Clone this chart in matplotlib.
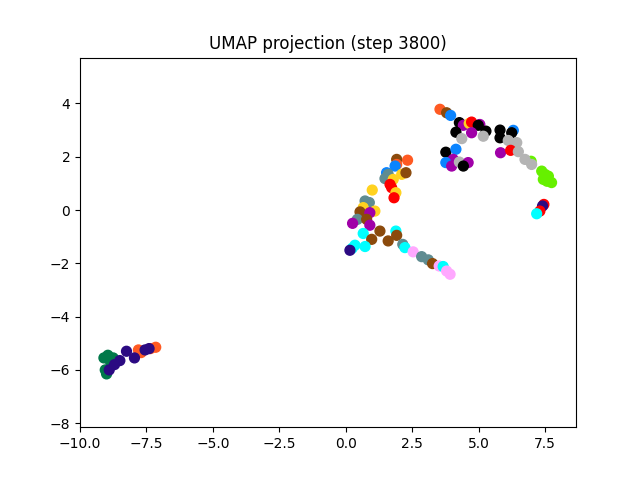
import matplotlib
matplotlib.use("Agg")
import matplotlib.pyplot as plt

# colour per cluster
palette = {
    "orange": "#ff5a22",
    "brown": "#8b4a0c",
    "blue": "#0a84ff",
    "slate": "#5f8c91",
    "gold": "#ffd21f",
    "red": "#ff0000",
    "purple": "#a000a8",
    "cyan": "#00ffff",
    "indigo": "#2b0a82",
    "pink": "#ffa8ff",
    "black": "#000000",
    "gray": "#b4b4b4",
    "green": "#66f000",
    "dkgreen": "#00794a",
}

# embedded points, in drawing order
xs = [
    # left cluster
    -9.10, -8.95, -8.75, -9.05, -9.00, -8.85,
    -7.80, -7.70, -7.35, -7.15,
    -8.90, -8.70, -8.50, -8.25, -7.95, -7.55, -7.40,
    # middle
    1.92, 2.33, 1.92, 1.86, 1.54, 1.60, 1.48, 2.11, 2.27, 1.79,
    1.67, 1.73, 1.89, 1.82, 1.00, 0.73, 0.89, 0.66, 1.10, 0.54,
    0.91, 0.44, 0.79, 0.26, 0.91, 0.66, 1.29, 1.89, 1.92, 0.98,
    1.60, 0.35, 0.73, 0.24, 0.16,
    # lower arm
    2.15, 2.23, 2.54, 2.86, 3.11, 3.27, 3.52, 3.67, 3.80, 3.93,
    # upper
    3.55, 3.80, 3.95, 4.28, 4.43, 4.65, 4.74, 5.05, 4.99, 4.15,
    4.74, 4.37, 5.28, 5.18, 3.77, 4.15, 4.05, 3.77, 3.99, 4.28,
    4.61, 4.43,
    # upper right
    5.81, 5.81, 6.31, 6.25, 6.12, 6.44, 5.83, 6.21, 6.50, 6.98,
    6.75, 7.00, 7.38, 7.50, 7.63, 7.44, 7.58, 7.75,
    7.46, 7.41, 7.31, 7.19,
]
ys = [
    -5.55, -5.45, -5.55, -6.00, -6.15, -5.70,
    -5.25, -5.35, -5.20, -5.15,
    -6.00, -5.80, -5.65, -5.30, -5.55, -5.25, -5.20,
    1.90, 1.87, 1.71, 1.65, 1.40, 1.34, 1.18, 1.34, 1.40, 1.15,
    0.96, 0.84, 0.65, 0.46, 0.75, 0.34, 0.28, 0.09, -0.04, -0.07,
    -0.10, -0.35, -0.35, -0.50, -0.57, -0.88, -0.79, -0.79, -0.95, -1.10,
    -1.16, -1.32, -1.37, -1.44, -1.51,
    -1.29, -1.41, -1.57, -1.75, -1.87, -2.01, -2.10, -2.12, -2.29, -2.41,
    3.78, 3.65, 3.55, 3.28, 3.18, 3.25, 3.30, 3.21, 3.18, 2.92,
    2.90, 2.68, 2.96, 2.77, 2.17, 2.28, 1.90, 1.78, 1.65, 1.80,
    1.78, 1.65,
    3.00, 2.71, 2.99, 2.90, 2.61, 2.53, 2.15, 2.24, 2.19, 1.83,
    1.90, 1.71, 1.46, 1.34, 1.27, 1.15, 1.08, 1.03,
    0.21, 0.15, -0.04, -0.14,
]
labels = [
    "dkgreen", "dkgreen", "dkgreen", "dkgreen", "dkgreen", "dkgreen",
    "orange", "orange", "orange", "orange",
    "indigo", "indigo", "indigo", "indigo", "indigo", "indigo", "indigo",
    "brown", "orange", "orange", "blue", "blue", "slate", "slate", "gold", "brown", "gold",
    "red", "red", "gold", "red", "gold", "slate", "slate", "gold", "gold", "brown",
    "purple", "slate", "brown", "purple", "purple", "cyan", "brown", "cyan", "brown", "brown",
    "brown", "cyan", "cyan", "cyan", "indigo",
    "slate", "cyan", "pink", "slate", "slate", "brown", "pink", "cyan", "pink", "pink",
    "orange", "brown", "blue", "black", "purple", "gold", "red", "purple", "black", "black",
    "purple", "gray", "black", "gray", "black", "blue", "purple", "blue", "purple", "gray",
    "purple", "black",
    "black", "black", "blue", "black", "gray", "gray", "purple", "red", "gray", "green",
    "gray", "gray", "green", "green", "green", "green", "green", "green",
    "red", "indigo", "red", "cyan",
]

fig, ax = plt.subplots(figsize=(6.4, 4.8), dpi=100)
ax.scatter(xs, ys, c=[palette[l] for l in labels], s=50)
ax.set_xlim(-10.0, 8.67)
ax.set_ylim(-8.15, 5.72)
ax.set_title("UMAP projection (step 3800)")
fig.savefig("out.png")
